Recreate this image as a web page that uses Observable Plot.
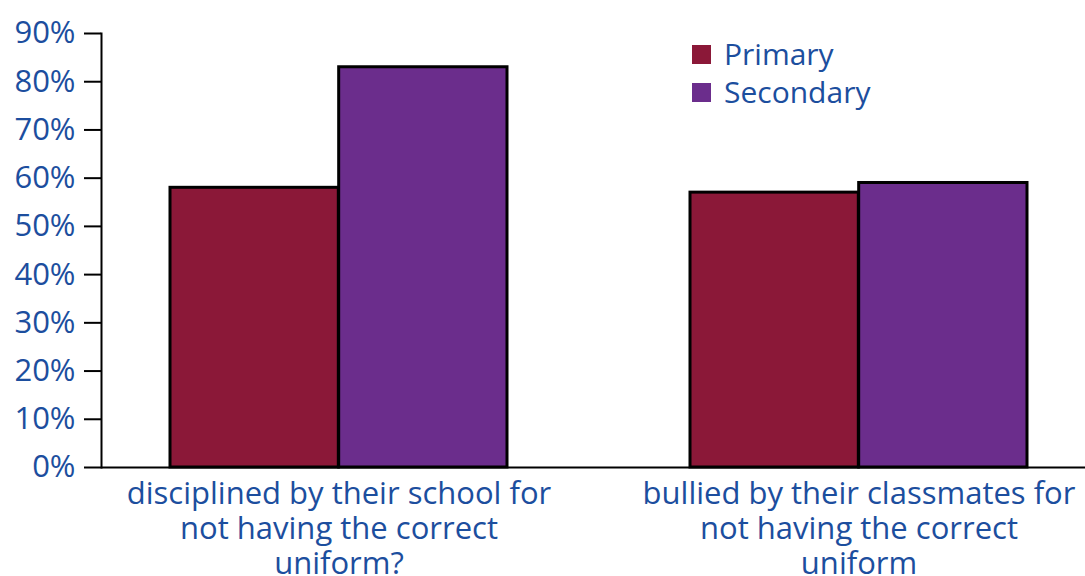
<!DOCTYPE html>
<html>
<head>
<meta charset="utf-8">
<script src="https://cdn.jsdelivr.net/npm/d3@7"></script>
<script src="https://cdn.jsdelivr.net/npm/@observablehq/plot@0.6"></script>
<style>
  html, body { margin: 0; padding: 0; background: #fff; }
  #wrap { position: relative; width: 1085px; height: 576px; overflow: hidden; }
  .lg-sw { position: absolute; width: 19px; height: 19px; }
  .lg-tx { position: absolute; font-family: "Open Sans", sans-serif; font-size: 30px; line-height: 38px; color: #1C4E9E; white-space: nowrap; }
</style>
</head>
<body>
<div id="wrap"><div id="chart"></div></div>
<script>
// ---- data ----
const categories = ["disciplined", "bullied"];
const categoryLabels = [
  "disciplined by their school for\nnot having the correct\nuniform?",
  "bullied by their classmates for\nnot having the correct\nuniform"
];
const series = ["Primary", "Secondary"];
const primaryValues = [0.58, 0.57];
const secondaryValues = [0.83, 0.59];
const seriesColors = ["#8B1838", "#6B2D8C"];
const yTicks = [0, 0.1, 0.2, 0.3, 0.4, 0.5, 0.6, 0.7, 0.8, 0.9];
const textBlue = "#1C4E9E";

const primaryRows = categories.map((c, i) => ({category: c, series: series[0], value: primaryValues[i]}));
const secondaryRows = categories.map((c, i) => ({category: c, series: series[1], value: secondaryValues[i]}));

const W = 1085, H = 576, ML = 101, MR = 0, MT = 33, MB = 109;
const xOptions = {domain: categories, paddingInner: 0.352, paddingOuter: 0.121, align: 0.54};
// band scale from the library: each category band holds the two series side by side
const xScale = Plot.scale({x: {type: "band", ...xOptions, range: [ML, W - MR]}});
const half = xScale.bandwidth / 2;

const chart = Plot.plot({
  width: W,
  height: H,
  marginTop: MT,
  marginBottom: MB,
  marginLeft: ML,
  marginRight: MR,
  style: {fontFamily: '"Open Sans", sans-serif', fontSize: "31px", background: "white", overflow: "visible"},
  x: {...xOptions, label: null},
  y: {domain: [0, 0.9], label: null},
  color: {domain: series, range: seriesColors},
  marks: [
    Plot.barY(primaryRows, {x: "category", y: "value", fill: "series", stroke: "#000", strokeWidth: 3, insetLeft: 0, insetRight: half}),
    Plot.barY(secondaryRows, {x: "category", y: "value", fill: "series", stroke: "#000", strokeWidth: 3, insetLeft: half, insetRight: 0}),
    Plot.ruleY([0], {stroke: "#000", strokeWidth: 2}),
    Plot.frame({anchor: "left", stroke: "#000", strokeWidth: 2}),
    Plot.axisY({ticks: yTicks, tickFormat: d3.format(".0%"), tickSize: 17, tickPadding: 9,
      stroke: "#000", strokeWidth: 2, fill: textBlue, label: null}),
    Plot.axisX({anchor: "bottom", tickSize: 0, tickPadding: 12,
      tickFormat: d => categoryLabels[categories.indexOf(d)],
      fill: textBlue, lineHeight: 1.12, label: null})
  ]
});
document.getElementById("chart").appendChild(chart);

// legend (overlaid on plot area)
const wrap = document.getElementById("wrap");
const legendTops = [45, 83];
series.forEach((s, i) => {
  const sw = document.createElement("div");
  sw.className = "lg-sw";
  sw.style.left = "692px";
  sw.style.top = legendTops[i] + "px";
  sw.style.background = seriesColors[i];
  wrap.appendChild(sw);
  const tx = document.createElement("div");
  tx.className = "lg-tx";
  tx.style.left = "724px";
  tx.style.top = (legendTops[i] - 10) + "px";
  tx.textContent = s;
  wrap.appendChild(tx);
});
</script>
</body>
</html>
